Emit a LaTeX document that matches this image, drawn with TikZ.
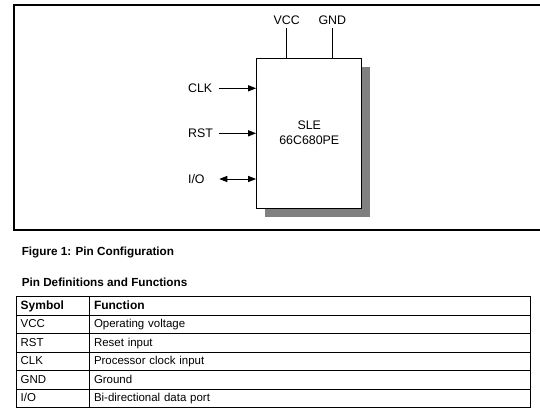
\documentclass[tikz,border=0pt]{standalone}
\usepackage{fontspec}
\setmainfont{Liberation Sans}
\usepackage{xcolor}
\usetikzlibrary{arrows.meta, positioning, shadows}
\definecolor{shadowgray}{RGB}{128,128,128}

\begin{document}
\begin{tikzpicture}[
    x=0.75pt, y=-0.75pt,
    chip/.style={draw, line width=0.75pt, fill=white, minimum width=79pt, minimum height=112.5pt, align=center, font=\fontsize{9.3}{11.25}\selectfont,
        drop shadow={shadow xshift=6.4pt, shadow yshift=-7.1pt, opacity=1, fill=shadowgray}},
    pinlbl/.style={inner sep=2.5pt, font=\fontsize{9.3}{11}\selectfont},
    pin/.style={line width=0.75pt},
    arrow/.style={-{Triangle[length=6pt, width=4.6pt]}, line width=0.75pt},
    biarrow/.style={{Triangle[length=6pt, width=4.6pt]}-{Triangle[length=6pt, width=4.6pt]}, line width=0.75pt},
    caption/.style={inner sep=0pt, anchor=base west, font=\fontsize{8.8}{10}\selectfont\bfseries},
    symcell/.style={draw, line width=0.75pt, anchor=north west, outer sep=0pt, minimum height=13.85pt, text width=48pt, inner xsep=3.5pt, inner ysep=0pt,
        align=left, text height=6.6pt, text depth=1.8pt, font=\fontsize{8.6}{10}\selectfont},
    funcell/.style={symcell, text width=324pt},
    head/.style={font=\fontsize{9}{10}\selectfont\bfseries}
]
\useasboundingbox (0,0) rectangle (540,414);

% --- Rahmen ---
\draw[line width=1.1pt] (541,5) -- (14,5) -- (14,230) -- (541,230);

% --- Baustein mit Pins ---
\node[chip] (chip) at (309.25,133) {SLE\\66C680PE};
\node[pinlbl] (vcc) at (286.7,20) {VCC};
\node[pinlbl] (gnd) at (332.3,20) {GND};
\draw[pin] (vcc.south) -- (vcc.south |- chip.north);
\draw[pin] (gnd.south) -- (gnd.south |- chip.north);

\node[pinlbl, anchor=west] (clk) at (184.5,88.3) {CLK};
\node[pinlbl, anchor=west] (rst) at (184.5,133.3) {RST};
\node[pinlbl, anchor=west] (io) at (184.5,179) {I/O};
\coordinate (clkin) at (218.5,88.3);
\coordinate (rstin) at (218.5,133.3);
\coordinate (ioin) at (219.3,179);
\draw[arrow] (clkin) -- (clkin -| chip.west);
\draw[arrow] (rstin) -- (rstin -| chip.west);
\draw[biarrow] (ioin) -- (ioin -| chip.west);

% --- Beschriftungen ---
\node[caption] (figcap) at (21.5,255) {Figure 1: Pin Configuration};
\node[caption] (tabcap) at (21.5,286) {Pin Definitions and Functions};

% --- Tabelle ---
\node[symcell, head] (h1) at (16,296.7) {Symbol};
\node[funcell, head, right=0pt of h1] (h2) {Function};
\node[symcell, below=0pt of h1] (s1) {VCC};
\node[funcell, right=0pt of s1] (f1) {Operating voltage};
\node[symcell, below=0pt of s1] (s2) {RST};
\node[funcell, right=0pt of s2] (f2) {Reset input};
\node[symcell, below=0pt of s2] (s3) {CLK};
\node[funcell, right=0pt of s3] (f3) {Processor clock input};
\node[symcell, below=0pt of s3] (s4) {GND};
\node[funcell, right=0pt of s4] (f4) {Ground};
\node[symcell, below=0pt of s4] (s5) {I/O};
\node[funcell, right=0pt of s5] (f5) {Bi-directional data port};
\end{tikzpicture}
\end{document}
